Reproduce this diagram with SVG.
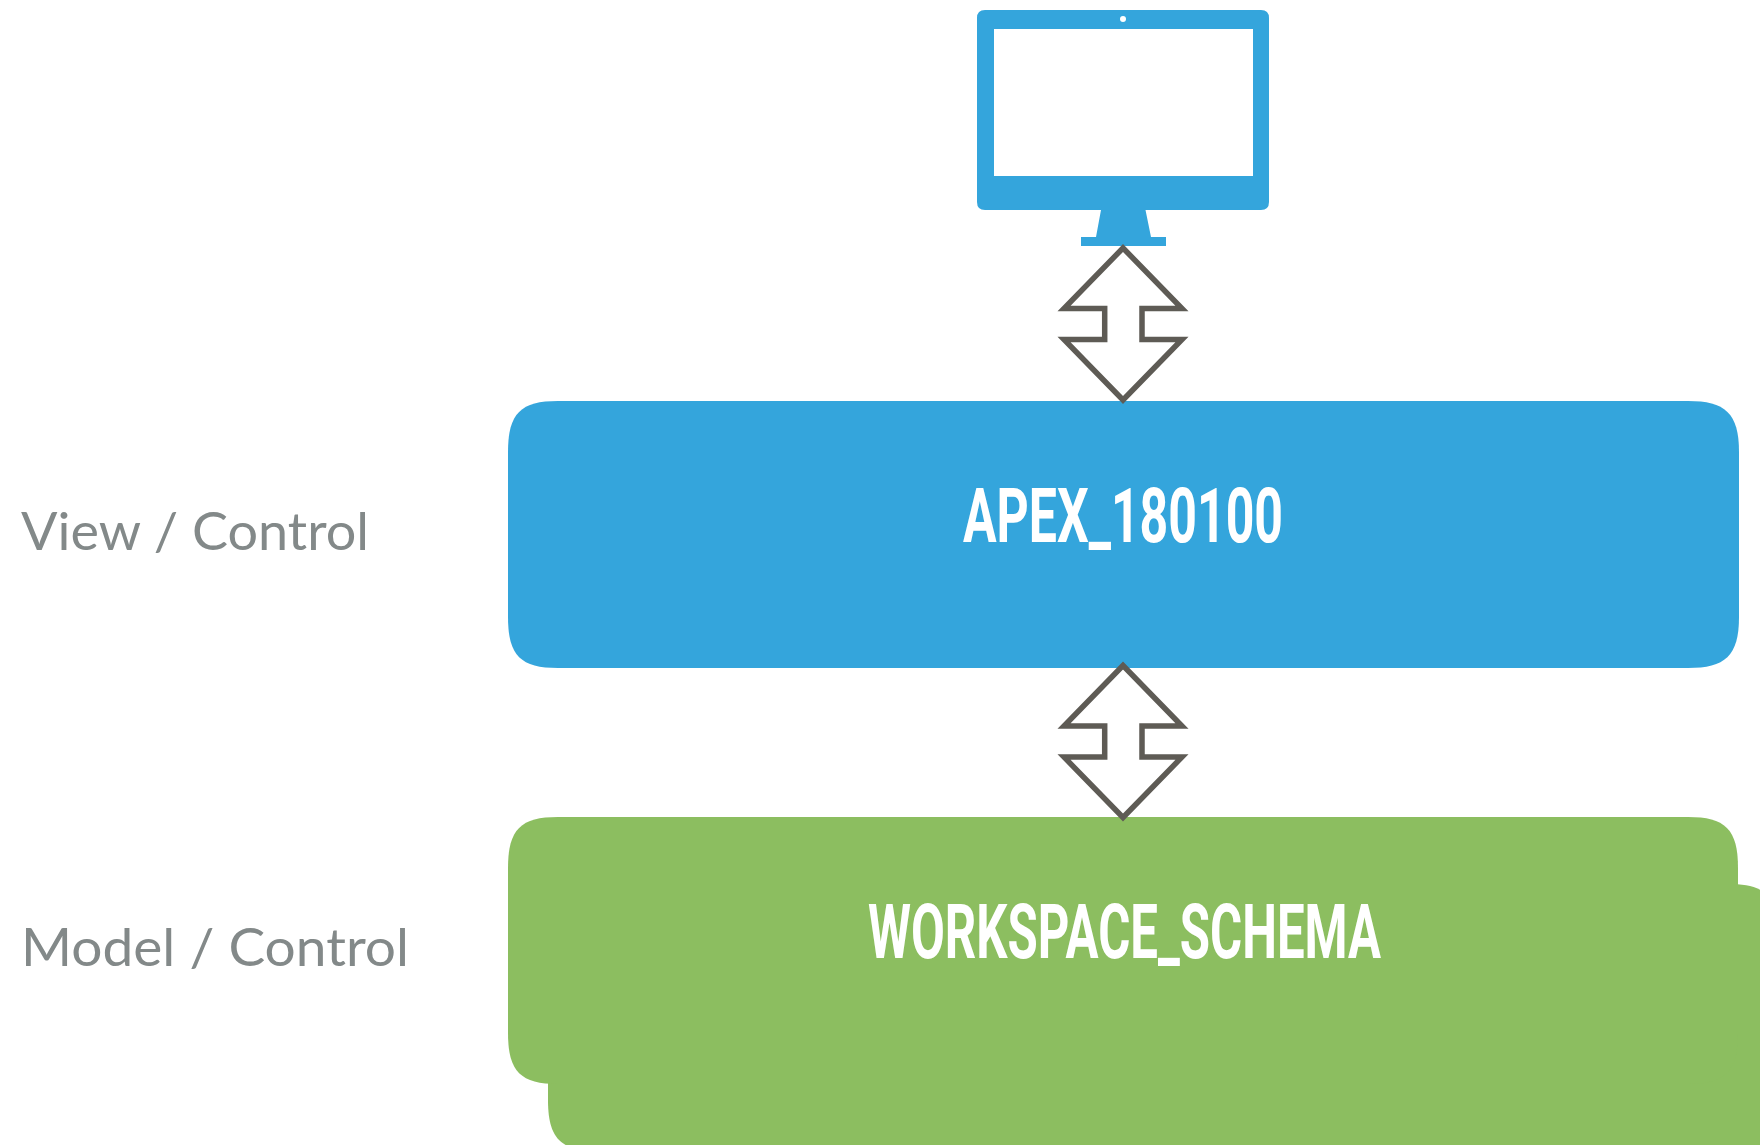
<svg xmlns="http://www.w3.org/2000/svg" width="1760" height="1145" viewBox="0 0 1760 1145">
<style>
.blue{fill:#34a5dc}
.green{fill:#8cbe60}
.arrow{fill:#fff;stroke:#5e5b55;stroke-width:5.500;stroke-miterlimit:10}
.label{font-family:"Lato","Liberation Sans",sans-serif;font-size:53px;fill:#838989}
.title{font-family:"Roboto","Liberation Sans",sans-serif;font-weight:700;font-size:76px;fill:#fff}
</style>
<defs>
<path id="dbl" class="arrow" d="M1123,248 L1182,308.5 H1142 V339.5 H1182 L1123,400 L1064,339.5 H1104.700 V308.500 H1064 Z"/>
</defs>
<rect width="1760" height="1145" fill="#fff"/>
<g id="monitor">
<path class="blue" fill-rule="evenodd" d="M985,10 H1261 Q1269,10 1269,18 V202 Q1269,210 1261,210 H1145.500 L1151,237 H1166 V246 H1081 V237 H1096 L1101,210 H985 Q977,210 977,202 V18 Q977,10 985,10 Z M994,29 V176 H1253 V29 Z"/>
<circle cx="1123" cy="19" r="3" fill="#fff"/>
</g>
<g id="apex">
<path class="blue" d="M558,401 H1688 C1725,401 1739,413 1739,452 V617 C1739,656 1725,668 1688,668 H558 C521,668 508,656 508,617 V452 C508,413 521,401 558,401 Z"/>
<text class="title" x="963" y="542" textLength="320" lengthAdjust="spacingAndGlyphs">APEX_180100</text>
</g>
<g id="workspace">
<path class="green" d="M598,884 H1728 C1765,884 1779,896 1779,935 V1100 C1779,1139 1765,1151 1728,1151 H598 C561,1151 548,1139 548,1100 V935 C548,896 561,884 598,884 Z"/>
<path class="green" d="M558,817 H1688 C1725,817 1738,829 1738,868 V1033 C1738,1072 1725,1084 1688,1084 H558 C521,1084 508,1072 508,1033 V868 C508,829 521,817 558,817 Z"/>
<text class="title" x="868" y="958" textLength="513" lengthAdjust="spacingAndGlyphs">WORKSPACE_SCHEMA</text>
</g>
<g id="connectors">
<use href="#dbl"/>
<use href="#dbl" y="417.500"/>
</g>
<g id="view-label"><text class="label" x="21" y="550" textLength="348" lengthAdjust="spacingAndGlyphs">View / Control</text></g>
<g id="model-label"><text class="label" x="21" y="966" textLength="388" lengthAdjust="spacingAndGlyphs">Model / Control</text></g>
</svg>
